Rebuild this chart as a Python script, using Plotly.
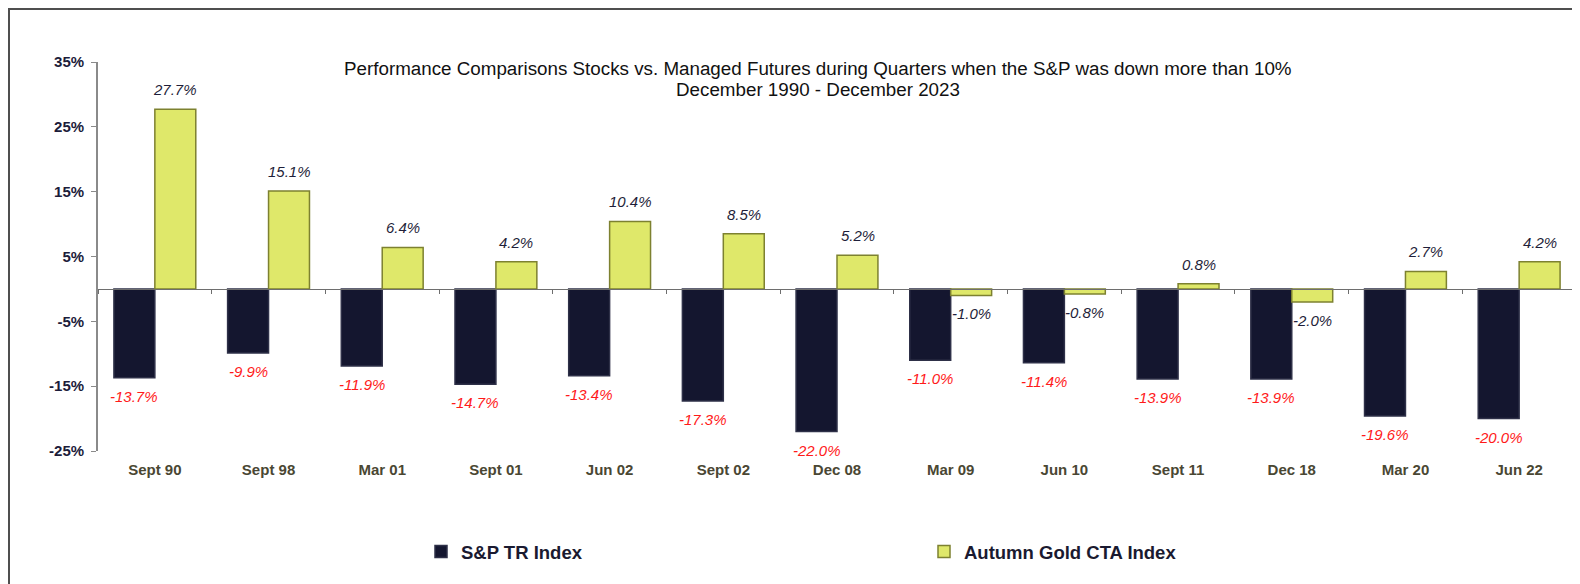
import plotly.graph_objects as go

categories = ["Sept 90", "Sept 98", "Mar 01", "Sept 01", "Jun 02", "Sept 02", "Dec 08",
              "Mar 09", "Jun 10", "Sept 11", "Dec 18", "Mar 20", "Jun 22"]
sp_tr = [-13.7, -9.9, -11.9, -14.7, -13.4, -17.3, -22.0, -11.0, -11.4, -13.9, -13.9, -19.6, -20.0]
autumn_gold = [27.7, 15.1, 6.4, 4.2, 10.4, 8.5, 5.2, -1.0, -0.8, 0.8, -2.0, 2.7, 4.2]
y_ticks = [-25, -15, -5, 5, 15, 25, 35]

# page has an 8px body margin: figure origin sits at page (8, 8)
OFF = 8
W, H = 1572, 576
PLOT_L, PLOT_R, PLOT_T, PLOT_B = 98, 1576, 62, 451  # page coords
ML = PLOT_L - OFF
MR = (W + OFF) - PLOT_R
MT = PLOT_T - OFF
MB = (H + OFF) - PLOT_B
PW = W - ML - MR
PH = H - MT - MB


def px_x(page_x):
    return (page_x - PLOT_L) / PW


def px_y(page_y):
    return (PLOT_B - page_y) / PH


DARK = "#14162f"
YELLOW = "#dfe86a"

fig = go.Figure()
fig.add_trace(go.Bar(
    x=categories, y=sp_tr, name="S&P TR Index",
    marker=dict(color=DARK, line=dict(color="#2e3048", width=1.5)),
))
fig.add_trace(go.Bar(
    x=categories, y=autumn_gold, name="Autumn Gold CTA Index",
    marker=dict(color=YELLOW, line=dict(color="#7d8130", width=1.5)),
))

# invisible overlay trace on xaxis2 to draw the zero-line axis with boundary ticks
fig.add_trace(go.Scatter(x=categories, y=[None] * len(categories), xaxis="x2",
                         mode="lines", showlegend=False, hoverinfo="skip"))

annotations = []
shift = 20.5
for c, v in zip(categories, sp_tr):
    annotations.append(dict(
        x=c, y=v, xref="x", yref="y", text=f"{v:.1f}%", showarrow=False,
        xshift=-shift, yanchor="top" if v < 0 else "bottom", yshift=-8 if v < 0 else 8,
        font=dict(family="Liberation Sans, Arial", size=15, color="#ff1a1a", style="italic"),
    ))
for c, v in zip(categories, autumn_gold):
    annotations.append(dict(
        x=c, y=v, xref="x", yref="y", text=f"{v:.1f}%", showarrow=False,
        xshift=shift, yanchor="top" if v < 0 else "bottom", yshift=-8 if v < 0 else 9,
        font=dict(family="Liberation Sans, Arial", size=15, color="#1f1f3a", style="italic"),
    ))

title_font = dict(family="Liberation Sans, Arial", size=18.8, color="#111111")
annotations.append(dict(
    xref="paper", yref="paper", x=px_x(818), y=px_y(68), xanchor="center", yanchor="middle",
    text="Performance Comparisons Stocks vs. Managed Futures during Quarters when the S&P was down more than 10%",
    showarrow=False, font=title_font,
))
annotations.append(dict(
    xref="paper", yref="paper", x=px_x(818), y=px_y(89), xanchor="center", yanchor="middle",
    text="December 1990 - December 2023", showarrow=False, font=title_font,
))

n = len(categories)
fig.update_layout(
    width=W, height=H,
    margin=dict(l=ML, r=MR, t=MT, b=MB, pad=0, autoexpand=False),
    paper_bgcolor="white", plot_bgcolor="white",
    barmode="group", bargap=0.28, bargroupgap=0.0,
    xaxis=dict(
        range=[-0.5, n - 0.5], autorange=False,
        showline=False, showgrid=False, zeroline=False, ticks="",
        tickfont=dict(family="Liberation Sans, Arial", size=15, color="#4a4733", weight="bold"),
        ticklabelstandoff=8,
    ),
    xaxis2=dict(
        overlaying="x", anchor="free", position=25 / 60, side="bottom",
        matches="x", showticklabels=False, showline=True, linecolor="#6e6e6e", linewidth=1.2,
        ticks="outside", ticklen=4, tickcolor="#6e6e6e", tickson="boundaries",
        showgrid=False, zeroline=False,
    ),
    yaxis=dict(
        range=[-25, 35], tickvals=y_ticks, ticktext=[f"{t}%\u00a0" for t in y_ticks],
        showline=True, linecolor="#8a8a8a", linewidth=1.5,
        ticks="outside", ticklen=5, tickcolor="#8a8a8a",
        showgrid=False, zeroline=False,
        tickfont=dict(family="Liberation Sans, Arial", size=15, color="#1c1c3a", weight="bold"),
    ),
    legend=dict(
        orientation="h", x=px_x(421), xanchor="left", y=px_y(552), yanchor="middle",
        entrywidth=458, entrywidthmode="pixels", itemwidth=30,
        font=dict(family="Liberation Sans, Arial", size=18.5, color="#1a1a30", weight="bold"),
        bgcolor="rgba(0,0,0,0)", traceorder="normal",
    ),
    annotations=annotations,
    showlegend=True,
)

# outer frame (top and left edges visible, like the original)
fig.add_shape(type="rect", xref="paper", yref="paper",
              x0=px_x(OFF + 1), x1=1.2, y0=-1.0, y1=px_y(OFF + 1),
              line=dict(color="#4f4f4f", width=2), fillcolor="rgba(0,0,0,0)", layer="below")

fig.write_html("out.html")
